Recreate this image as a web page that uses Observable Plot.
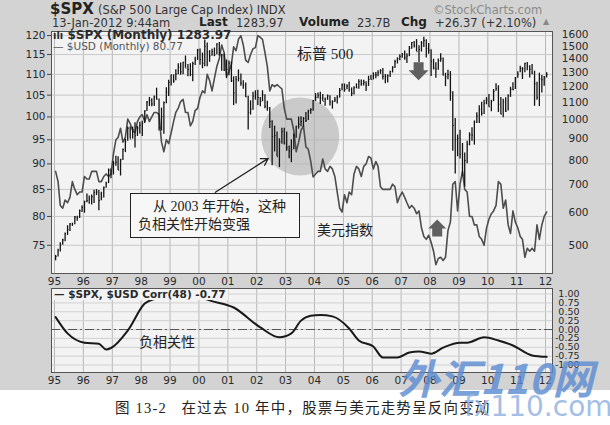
<!DOCTYPE html>
<html><head><meta charset="utf-8">
<script src="https://cdn.jsdelivr.net/npm/d3@7"></script>
<script src="https://cdn.jsdelivr.net/npm/@observablehq/plot@0.6"></script>
<style>
body{margin:0;background:#fff;}
#wrap{position:relative;width:610px;height:425px;overflow:hidden;font-family:"DejaVu Sans",sans-serif;color:#2a2a2a;}
#bg{position:absolute;left:0;top:0;width:610px;height:390px;background:#d3d3d3;}
.abs{position:absolute;white-space:nowrap;}
.cn{font-family:"Liberation Serif","Noto Sans CJK SC",serif;color:#222;}
svg{position:absolute;left:0;}
</style></head><body>
<div id="wrap">
<div id="bg"></div>
<div id="charts"></div>
<div class="abs" style="left:50px;top:0px;font-size:15px;font-weight:bold;color:#222;">$SPX</div>
<div class="abs" style="left:98px;top:3px;font-size:11.5px;color:#333;">(S&amp;P 500 Large Cap Index) INDX</div>
<div class="abs" style="left:433px;top:3px;font-size:11.5px;color:#8a8a8a;">©StockCharts.com</div>
<div class="abs" style="left:52px;top:16px;font-size:11.5px;color:#333;">13-Jan-2012 9:44am</div>
<div class="abs" style="left:199px;top:15px;font-size:12px;font-weight:bold;color:#222;">Last</div>
<div class="abs" style="left:236px;top:16px;font-size:11.5px;color:#333;">1283.97</div>
<div class="abs" style="left:299px;top:15px;font-size:12px;font-weight:bold;color:#222;">Volume</div>
<div class="abs" style="left:357px;top:16px;font-size:11.5px;color:#333;">23.7B</div>
<div class="abs" style="left:401px;top:15px;font-size:12px;font-weight:bold;color:#222;">Chg</div>
<div class="abs" style="left:435px;top:16px;font-size:11.5px;color:#333;">+26.37 (+2.10%)</div>
<div class="abs" style="left:543px;top:17px;font-size:8px;color:#888;">▲</div>
<div class="abs" style="left:53px;top:28px;font-size:12px;font-weight:bold;color:#2a2a2a;"><span style="font-size:10px;">ılı</span> $SPX (Monthly) 1283.97</div>
<div class="abs" style="left:53px;top:40px;font-size:10.5px;color:#555;">— $USD (Monthly) 80.77</div>
<div class="abs cn" style="left:297px;top:42px;font-size:15px;">标普 500</div>
<div class="abs cn" style="left:317px;top:219px;font-size:14px;">美元指数</div>
<div class="abs cn" style="left:130px;top:193px;width:168px;height:43px;border:1.5px solid #222;background:#f7f7f7;font-size:14px;line-height:18px;">
 <div style="padding-left:22px;padding-top:4px;">从 2003 年开始，这种</div>
 <div style="padding-left:7px;">负相关性开始变强</div>
</div>
<div class="abs" style="left:52px;top:289px;padding:0 2px;height:11px;line-height:11px;background:#f3f3f3;font-size:10.5px;font-weight:bold;color:#2a2a2a;">— $SPX, $USD Corr(48) -0.77</div>
<div class="abs cn" style="left:139px;top:331px;font-size:14px;">负相关性</div>
<div class="abs cn" style="left:115px;top:396px;font-size:14.5px;letter-spacing:1.2px;">图 13-2 &nbsp; 在过去 10 年中，股票与美元走势呈反向变动</div>
<div class="abs" style="left:398px;top:346px;font-size:41px;font-weight:bold;font-style:italic;color:#5a8bd2;opacity:0.8;font-family:'Noto Sans CJK SC',sans-serif;">外汇110网</div>
<div class="abs" style="left:464px;top:390px;font-size:28px;color:#94b4e2;opacity:0.85;font-family:'DejaVu Sans',sans-serif;">fx110.com</div>
</div>
<script>
// ---- data ----
const spxClose = [
 470,487,501,515,533,545,562,562,584,582,605,616,
 636,640,646,654,669,671,640,652,687,705,757,741,
 786,791,757,801,848,885,954,899,947,915,955,970,
 980,1049,1102,1112,1091,1134,1121,957,1017,1099,1164,1229,
 1280,1238,1286,1335,1302,1373,1329,1320,1283,1363,1389,1469,
 1394,1366,1499,1452,1421,1455,1431,1518,1437,1429,1315,1320,
 1366,1240,1160,1249,1256,1224,1211,1134,1041,1060,1139,1148,
 1130,1107,1147,1077,1067,990,912,916,815,886,936,880,
 856,841,848,917,964,975,990,1008,996,1051,1058,1112,
 1131,1145,1126,1107,1121,1141,1102,1104,1115,1130,1174,1212,
 1181,1204,1181,1157,1192,1191,1234,1220,1229,1207,1249,1248,
 1280,1281,1295,1311,1270,1270,1277,1304,1336,1378,1401,1418,
 1438,1407,1421,1482,1531,1503,1455,1474,1527,1549,1481,1468,
 1379,1331,1323,1386,1400,1280,1267,1283,1165,969,896,903,
 826,735,798,873,919,919,987,1021,1057,1036,1096,1115,
 1074,1104,1169,1187,1089,1031,1102,1049,1141,1183,1181,1258,
 1286,1327,1326,1364,1345,1321,1292,1219,1131,1253,1247,1258,
 1284];
const spxHigh = [
 473,489,507,517,535,557,564,565,586,587,608,622,
 638,664,656,660,678,680,677,670,690,708,762,762,
 795,817,815,804,851,898,961,961,960,983,964,986,
 992,1050,1105,1131,1122,1139,1190,1121,1066,1103,1193,1244,
 1280,1281,1317,1362,1368,1373,1421,1357,1362,1373,1411,1474,
 1478,1444,1553,1527,1464,1475,1485,1520,1531,1436,1438,1391,
 1383,1376,1267,1269,1316,1286,1239,1225,1138,1110,1163,1173,
 1176,1131,1173,1147,1107,1070,994,965,935,900,954,954,
 935,865,895,924,965,1015,1016,1012,1040,1054,1063,1112,
 1155,1159,1163,1150,1128,1146,1141,1110,1131,1142,1188,1217,
 1218,1212,1229,1192,1200,1219,1246,1245,1243,1233,1271,1276,
 1295,1297,1310,1318,1326,1284,1280,1306,1340,1389,1407,1431,
 1441,1462,1439,1498,1532,1540,1556,1503,1539,1576,1555,1523,
 1471,1396,1370,1397,1440,1405,1292,1314,1304,1167,1007,919,
 943,877,832,888,930,956,993,1039,1080,1101,1113,1130,
 1150,1113,1181,1220,1206,1131,1120,1129,1148,1196,1227,1263,
 1303,1344,1333,1366,1371,1346,1357,1307,1230,1293,1277,1270,
 1296];
const spxLow = [
 459,469,482,500,510,528,540,555,560,571,580,599,
 597,632,627,625,630,658,605,639,649,685,703,722,
 737,773,756,733,798,834,888,899,899,855,912,924,
 912,979,1047,1076,1074,1075,1114,940,940,923,1092,1137,
 1205,1223,1240,1282,1278,1282,1329,1268,1268,1233,1349,1387,
 1350,1325,1339,1340,1373,1420,1416,1431,1420,1306,1305,1254,
 1274,1228,1081,1091,1232,1203,1183,1131,945,1026,1054,1114,
 1081,1074,1104,1063,1048,953,776,837,815,768,873,870,
 840,806,789,847,903,949,962,960,985,995,1031,1048,
 1106,1123,1088,1107,1077,1113,1079,1060,1100,1090,1127,1173,
 1164,1180,1163,1136,1146,1188,1183,1202,1205,1168,1202,1245,
 1245,1253,1268,1285,1245,1219,1224,1262,1294,1327,1360,1385,
 1403,1389,1364,1416,1476,1485,1455,1371,1453,1489,1406,1435,
 1270,1316,1257,1313,1373,1272,1200,1247,1107,840,741,815,
 805,735,690,784,866,888,869,979,979,1020,1029,1086,
 1071,1045,1105,1170,1040,1028,1011,1040,1049,1131,1173,1181,
 1257,1295,1249,1295,1311,1259,1282,1077,1114,1075,1158,1202,
 1259];
const usdClose = [
 88.5,86.5,82.0,81.5,83.0,82.5,83.5,86.5,85.0,84.0,84.5,84.5,
 87.5,87.0,87.0,88.5,88.5,88.5,86.5,86.5,87.5,88.0,87.5,88.0,
 92.0,95.0,95.5,97.5,94.5,95.5,99.5,98.5,97.0,96.5,99.0,100.0,
 100.5,99.0,100.5,99.0,100.0,101.0,101.0,100.5,94.5,92.5,95.0,94.2,
 96.5,99.0,101.0,102.0,103.5,104.0,101.0,101.0,98.0,99.0,101.5,101.9,
 104.5,106.0,105.5,110.0,108.5,106.0,109.0,112.0,114.0,117.5,115.5,109.6,
 110.7,112.5,117.0,116.0,119.0,120.0,117.5,113.5,113.0,115.0,116.5,116.8,
 120.0,119.5,119.0,115.5,112.0,106.0,107.5,107.0,107.5,107.0,106.5,102.0,
 99.5,99.5,99.5,97.0,92.5,94.5,97.0,98.0,93.5,93.0,90.5,87.4,
 88.0,88.5,88.5,91.0,89.0,88.5,89.5,89.0,87.5,84.5,81.5,80.8,
 84.0,82.5,84.5,84.0,88.0,89.5,89.0,87.5,89.5,90.0,91.5,91.2,
 89.0,90.5,89.5,85.5,85.0,85.0,85.0,85.0,86.0,85.5,82.5,83.7,
 84.5,83.5,82.5,81.5,82.0,81.5,80.5,81.0,78.0,76.5,76.0,76.7,
 75.5,74.0,71.8,72.8,73.0,72.5,73.0,77.5,79.0,86.0,86.5,81.0,
 86.0,88.5,85.0,84.5,80.0,80.0,78.5,78.5,76.5,76.0,75.0,77.9,
 79.5,80.5,81.0,82.0,86.5,86.0,81.5,83.0,78.5,77.0,81.0,79.0,
 78.0,76.5,76.0,73.0,74.5,74.0,74.5,74.0,78.5,76.0,78.5,80.0,
 80.8];
const corrMonths = ["1995-01","1995-06","1996-01","1996-07","1996-10","1996-12","1997-07","1998-02","1998-07","1999-01","1999-07","2000-01","2000-05","2001-03","2002-02","2002-10","2003-03","2003-07","2003-11","2004-03","2004-08","2005-03","2005-07","2006-01","2006-05","2006-11","2007-04","2007-08","2008-01","2008-06","2009-01","2009-04","2009-11","2010-05","2010-11","2011-07","2012-01"];
const corrValues = [0.35,-0.11,-0.37,-0.40,-0.56,-0.52,-0.03,0.73,0.88,0.95,0.97,0.92,0.82,0.62,0.06,-0.22,-0.11,0.25,0.39,0.41,0.37,0.03,-0.31,-0.48,-0.79,-0.79,-0.65,-0.62,-0.68,-0.51,-0.37,-0.37,-0.22,-0.31,-0.45,-0.73,-0.77];
const usdTicks = [75,80,85,90,95,100,105,110,115,120];
const spxTicks = [500,600,700,800,900,1000,1100,1200,1300,1400,1500,1600];
const corrTicks = [-1,-0.75,-0.5,-0.25,0,0.25,0.5,0.75,1];

// ---- build tables ----
const dates = d3.range(spxClose.length).map(i => new Date(Date.UTC(1995, i, 15)));
const spx = dates.map((d,i)=>({date:d, close:spxClose[i], high:spxHigh[i], low:spxLow[i]}));
const usd = dates.map((d,i)=>({date:d, value:usdClose[i]}));
const corr = corrMonths.map((m,i)=>({date:new Date(m+"-15"), value:corrValues[i]}));
const xDomain = [new Date("1994-11-24"), new Date("2012-03-29")];
const yearTicks = d3.utcYears(new Date("1995-01-01"), new Date("2012-01-02"));
const fmtY = d3.utcFormat("%y");

const W=610, H=290, mL=51, mR=58, mT=31, mB=17;
const baseStyle = {background:"transparent", fontFamily:"DejaVu Sans", fontSize:"10.5px", color:"#2a2a2a", overflow:"visible"};

const usdPlot = Plot.plot({
  width:W, height:H, marginLeft:mL, marginRight:mR, marginTop:mT, marginBottom:mB,
  style:baseStyle,
  x:{type:"utc", domain:xDomain, label:null},
  y:{type:"log", domain:[70.4,121.1], label:null},
  marks:[
    Plot.frame({fill:"#f3f3f3"}),
    Plot.ruleX(yearTicks,{stroke:"#b8b8b8", strokeWidth:1}),
    Plot.ruleY(usdTicks,{stroke:"#c8c8c8", strokeWidth:1}),
    Plot.dot([{date:new Date("2003-07-05"), v:95.7}],{x:"date", y:"v", r:39, fill:"#b4b4b4", fillOpacity:0.65, stroke:"none"}),
    Plot.line(usd,{x:"date", y:"value", stroke:"#4d4d4d", strokeWidth:1.6}),
    Plot.axisY({ticks:usdTicks, anchor:"left", tickSize:4, tickPadding:2, tickFormat:d=>String(d), stroke:"#444", label:null}),
    Plot.axisX({ticks:yearTicks, anchor:"bottom", tickSize:0, tickPadding:4, tickFormat:fmtY, label:null}),
    Plot.frame({stroke:"#555"})
  ]
});

const downArrow = {draw(ctx){ctx.moveTo(-5,-9);ctx.lineTo(5,-9);ctx.lineTo(5,-1);ctx.lineTo(10,-1);ctx.lineTo(0,9);ctx.lineTo(-10,-1);ctx.lineTo(-5,-1);ctx.closePath();}};
const upArrow = {draw(ctx){ctx.moveTo(-5,9);ctx.lineTo(5,9);ctx.lineTo(5,1);ctx.lineTo(9,1);ctx.lineTo(0,-8);ctx.lineTo(-9,1);ctx.lineTo(-5,1);ctx.closePath();}};

const spxPlot = Plot.plot({
  width:W, height:H, marginLeft:mL, marginRight:mR, marginTop:mT, marginBottom:mB,
  style:baseStyle,
  x:{type:"utc", domain:xDomain, axis:null},
  y:{type:"log", domain:[428,1627], label:null},
  marks:[
    Plot.ruleX(spx,{x:"date", y1:"low", y2:"high", stroke:"#141414", strokeWidth:1.3}),
    Plot.link(spx,{x1:"date", x2:d=>new Date(+d.date+12*864e5), y1:"close", y2:"close", stroke:"#141414", strokeWidth:1}),
    Plot.arrow([{x1:new Date("2000-07-27"), y1:670, x2:new Date("2002-05-26"), y2:808}],{x1:"x1",y1:"y1",x2:"x2",y2:"y2", stroke:"#222", strokeWidth:1.3, headLength:9, bend:0}),
    Plot.dot([{date:new Date("2007-08-10"), v:1307}],{x:"date", y:"v", symbol:downArrow, fill:"#606060", stroke:"none"}),
    Plot.dot([{date:new Date("2008-04-01"), v:552}],{x:"date", y:"v", symbol:upArrow, fill:"#606060", stroke:"none"}),
    Plot.axisY({ticks:spxTicks, anchor:"right", tickSize:0, tickPadding:0, textAnchor:"end", dx:36, tickFormat:d=>String(d), label:null})
  ]
});

const corrPlot = Plot.plot({
  width:W, height:110, marginLeft:mL, marginRight:mR, marginTop:8, marginBottom:18,
  style:baseStyle,
  x:{type:"utc", domain:xDomain, label:null},
  y:{domain:[-1.211,1.155], label:null},
  marks:[
    Plot.frame({fill:"#f3f3f3"}),
    Plot.ruleX(yearTicks,{stroke:"#b8b8b8", strokeWidth:1}),
    Plot.ruleY(corrTicks,{stroke:"#d0d0d0", strokeWidth:1}),
    Plot.ruleY([0],{stroke:"#555", strokeWidth:1, strokeDasharray:"9,3,2,3"}),
    Plot.line(corr,{x:"date", y:"value", curve:"monotone-x", stroke:"#1a1a1a", strokeWidth:2}),
    Plot.axisY({ticks:corrTicks, anchor:"right", tickSize:0, tickPadding:0, textAnchor:"end", dx:27, fontSize:9.5, tickFormat:d=>d.toFixed(2), label:null}),
    Plot.axisX({ticks:yearTicks, anchor:"bottom", tickSize:0, tickPadding:4, tickFormat:fmtY, label:null}),
    Plot.frame({stroke:"#555"})
  ]
});

const host = document.getElementById("charts");
usdPlot.style.top = "0px";
spxPlot.style.top = "0px";
corrPlot.style.top = "280px";
host.appendChild(usdPlot);
host.appendChild(spxPlot);
host.appendChild(corrPlot);
</script>
</body></html>
